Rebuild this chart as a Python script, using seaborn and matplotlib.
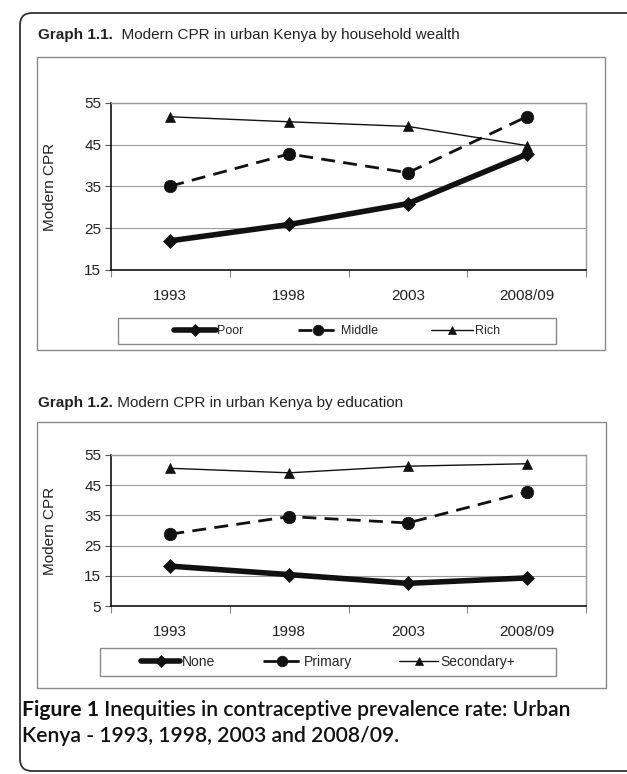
import matplotlib
matplotlib.use("Agg")
import matplotlib.pyplot as plt
import seaborn as sns
from matplotlib.patches import Rectangle, FancyBboxPatch
from matplotlib.ticker import FixedLocator

years = ["1993", "1998", "2003", "2008/09"]

# Graph 1.1 - household wealth
wealth_names = ["Poor", "Middle", "Rich"]
poor = [22.0, 25.9, 30.9, 42.7]
middle = [35.1, 42.8, 38.3, 51.7]
rich = [51.7, 50.5, 49.4, 44.8]

# Graph 1.2 - education
edu_names = ["None", "Primary", "Secondary+"]
none_edu = [18.2, 15.4, 12.5, 14.3]
primary = [28.8, 34.6, 32.5, 42.7]
secondary = [50.6, 49.1, 51.3, 52.1]

sns.set_theme(style="white")
plt.rcParams["font.family"] = ["Liberation Sans", "DejaVu Sans"]

W, H = 627, 774
fig = plt.figure(figsize=(W / 100, H / 100), dpi=100)


def fx(px):
    return px / W


def fy(py):
    return 1 - py / H


def box(x0, y0, x1, y1, **kw):
    # pixel coords, origin top-left
    r = Rectangle((x0 / 100, (H - y1) / 100), (x1 - x0) / 100, (y1 - y0) / 100,
                  transform=fig.dpi_scale_trans, fill=False, **kw)
    fig.patches.append(r)


# outer rounded frame
frame = FancyBboxPatch((0.20, (H - 771) / 100), 6.6, (771 - 13) / 100,
                       boxstyle="round,pad=0,rounding_size=0.12",
                       transform=fig.dpi_scale_trans, fill=False,
                       ec="#333333", lw=1.3)
fig.patches.append(frame)

box(37, 57, 605, 350, ec="#8a8a8a", lw=1.0)
box(37, 422, 606, 688, ec="#8a8a8a", lw=1.0)

styles = [
    dict(linewidth=4.0, linestyle="-", marker="D", markersize=7),
    dict(linewidth=2.0, linestyle=(0, (5, 3)), marker="o", markersize=9),
    dict(linewidth=1.0, linestyle="-", marker="^", markersize=7),
]


def draw(top, bottom, ylim, series, names, leg_box, leg_fs, leg_hl, leg_cs):
    ax = fig.add_axes([fx(111), fy(bottom), fx(586) - fx(111), fy(top) - fy(bottom)])
    pos = list(range(len(years)))
    for vals, name, st in zip(series, names, styles):
        sns.lineplot(x=pos, y=vals, ax=ax, color="#111111", label=name,
                     markeredgecolor="#111111", markerfacecolor="#111111",
                     markeredgewidth=0.5, **st)
    ax.set_xlim(-0.5, 3.5)
    ax.set_ylim(*ylim)
    ax.set_yticks(range(ylim[0], ylim[1] + 1, 10))
    ax.set_xticks(pos)
    ax.set_xticklabels(years)
    ax.xaxis.set_minor_locator(FixedLocator([-0.5, 0.5, 1.5, 2.5, 3.5]))
    ax.tick_params(axis="x", which="major", length=0, pad=14, labelsize=11, colors="#222222")
    ax.tick_params(axis="x", which="minor", bottom=True, length=5, width=0.8, color="#888888", direction="out")
    ax.tick_params(axis="y", left=True, length=4, width=0.8, color="#555555", pad=3, labelsize=11, labelcolor="#222222")
    ax.yaxis.grid(True, color="#9a9a9a", lw=0.8)
    ax.set_axisbelow(True)
    for s in ["top", "right"]:
        ax.spines[s].set_color("#9a9a9a")
        ax.spines[s].set_linewidth(1.0)
    for s in ["left", "bottom"]:
        ax.spines[s].set_color("#111111")
        ax.spines[s].set_linewidth(1.2)
    ax.set_xlabel("")
    ax.set_ylabel("Modern CPR", fontsize=11, color="#222222")
    ax.yaxis.set_label_coords(-0.113, 0.5)
    # legend frame drawn separately, entries centred inside it
    x0, y0, x1, y1 = leg_box
    box(x0, y0, x1, y1, ec="#8a8a8a", lw=1.0)
    ax.legend(loc="center", bbox_to_anchor=(fx((x0 + x1) / 2), fy((y0 + y1) / 2)),
              bbox_transform=fig.transFigure, ncol=3, frameon=False,
              handlelength=leg_hl, handletextpad=0.15, columnspacing=leg_cs,
              borderaxespad=0, fontsize=leg_fs, numpoints=1, markerscale=0.85)
    return ax


ax1 = draw(103, 270, (15, 55), [poor, middle, rich], wealth_names,
           (118, 318, 556, 344), 9, 3.3, 4.3)
ax2 = draw(455, 606, (5, 55), [none_edu, primary, secondary], edu_names,
           (100, 648, 556, 676), 10, 2.8, 3.4)

t1 = fig.text(fx(38), fy(35), "Graph 1.1.", fontsize=11, weight="bold", va="center", color="#222222")
ax1.annotate("  Modern CPR in urban Kenya by household wealth", xy=(1, 0.5), xycoords=t1,
             va="center", ha="left", fontsize=11, color="#222222", annotation_clip=False)
t2 = fig.text(fx(38), fy(403), "Graph 1.2.", fontsize=11, weight="bold", va="center", color="#222222")
ax2.annotate(" Modern CPR in urban Kenya by education", xy=(1, 0.5), xycoords=t2,
             va="center", ha="left", fontsize=11, color="#222222", annotation_clip=False)

cap_font = ["Lato", "DejaVu Sans"]
c1 = fig.text(fx(22), fy(710), "Figure 1", fontsize=15.2, weight="bold", family=cap_font,
              va="center", color="#111111")
ax2.annotate(" Inequities in contraceptive prevalence rate: Urban", xy=(1, 0.5), xycoords=c1,
             va="center", ha="left", fontsize=15.2, weight="semibold", family=cap_font,
             color="#111111", annotation_clip=False)
fig.text(fx(22), fy(736), "Kenya - 1993, 1998, 2003 and 2008/09.",
         fontsize=15.2, weight="semibold", family=cap_font, va="center", color="#111111")

fig.savefig("out.png", dpi=100)
